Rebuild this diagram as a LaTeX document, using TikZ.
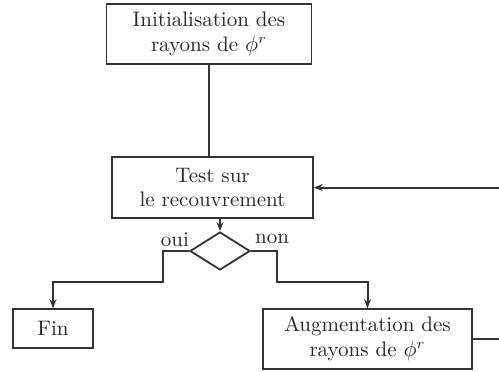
\documentclass[tikz,border=0pt]{standalone}
\usetikzlibrary{shapes.geometric,arrows.meta}
\begin{document}
\begin{tikzpicture}[x=0.5pt,y=-0.5pt,
  every node/.style={font=\fontsize{10.5}{12.5}\selectfont, text=black!85},
  box/.style={draw=black!80, line width=0.8pt, align=center, inner sep=0pt},
  dia/.style={draw=black!80, line width=0.9pt, diamond, inner sep=0pt, minimum width=30pt, minimum height=19pt, shape aspect=1.6},
  conn/.style={draw=black!80, line width=1pt},
  arr/.style={conn, -{Stealth[length=4.5pt,width=3.5pt]}},
  lab/.style={inner sep=0pt}]
\useasboundingbox (0,0) rectangle (499,371);
\node[box, minimum width=102.5pt, minimum height=30pt] (init) at (209,34) {Initialisation des\\rayons de $\phi^r$};
\node[box, minimum width=100.5pt, minimum height=30.5pt] (test) at (212.5,187.5) {Test sur\\le recouvrement};
\node[dia] (d) at (220,251) {};
\node[box, minimum width=40pt, minimum height=19.5pt] (fin) at (53,328.5) {Fin};
\node[box, minimum width=104.5pt, minimum height=30pt] (aug) at (367.5,339) {Augmentation des\\rayons de $\phi^r$};
\node[lab] (oui) at (175,240) {oui};
\node[lab] (non) at (272,239) {non};
\coordinate (fbb) at (504,339);
\draw[conn] (init.south) -- (init.south |- test.north);
\draw[arr] (d.north |- test.south) -- (d.north);
\draw[arr] (d.west) -| (163,282) -| (fin.north);
\draw[arr] (d.east) -| (277,282) -| (aug.north);
\draw[arr] (aug.east) -- (aug.east -| fbb) |- (test.east);
\end{tikzpicture}
\end{document}
